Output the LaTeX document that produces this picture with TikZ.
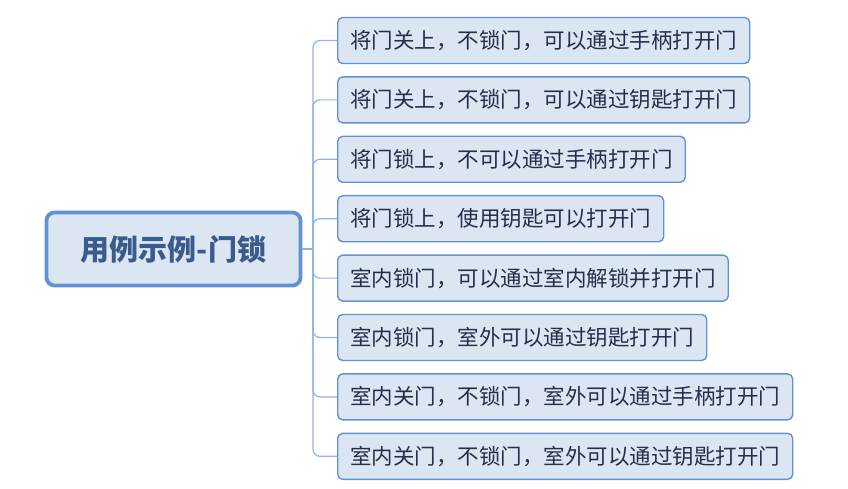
\documentclass[tikz,border=0pt]{standalone}
\usepackage{fontspec}
\newfontfamily\cjk{Noto Sans CJK SC}
\definecolor{fillc}{RGB}{220,230,242}
\definecolor{bordc}{RGB}{96,146,212}
\definecolor{connc}{RGB}{142,180,227}
\definecolor{txtc}{RGB}{35,48,75}
\definecolor{roottxt}{RGB}{58,92,140}
\tikzset{
  child/.style={draw=bordc, fill=fillc, rounded corners=5pt, line width=1.4pt, anchor=west,
    minimum height=46pt, inner xsep=12.5pt, inner ysep=0pt, text=txtc,
    font=\cjk\fontsize{21.5}{24}\selectfont},
  rootbox/.style={draw=bordc, fill=fillc, rounded corners=8pt, line width=3.8pt,
    minimum width=254pt, minimum height=73pt, text=roottxt,
    font=\cjk\bfseries\fontsize{29}{33}\selectfont},
  conn/.style={draw=connc, line width=1.2pt},
}
\begin{document}
\begin{tikzpicture}[x=1pt,y=1pt]
\useasboundingbox (0,0) rectangle (848,-489);
\node[rootbox] (root) at (173.5,-249) {用例示例-门锁};
\coordinate (tr) at (313,-249);
\node[child] (c1) at (337,-40.5) {将门关上，不锁门，可以通过手柄打开门};
\node[child] (c2) at (337,-99.9) {将门关上，不锁门，可以通过钥匙打开门};
\node[child] (c3) at (337,-159.3) {将门锁上，不可以通过手柄打开门};
\node[child] (c4) at (337,-218.7) {将门锁上，使用钥匙可以打开门};
\node[child] (c5) at (337,-278.1) {室内锁门，可以通过室内解锁并打开门};
\node[child] (c6) at (337,-337.5) {室内锁门，室外可以通过钥匙打开门};
\node[child] (c7) at (337,-396.9) {室内关门，不锁门，室外可以通过手柄打开门};
\node[child] (c8) at (337,-456.3) {室内关门，不锁门，室外可以通过钥匙打开门};
\draw[conn] (root.east) -- (tr);
\foreach \k in {1,...,8}{
  \draw[conn, rounded corners=7pt] (tr) |- (c\k.west);
}
\end{tikzpicture}
\end{document}
